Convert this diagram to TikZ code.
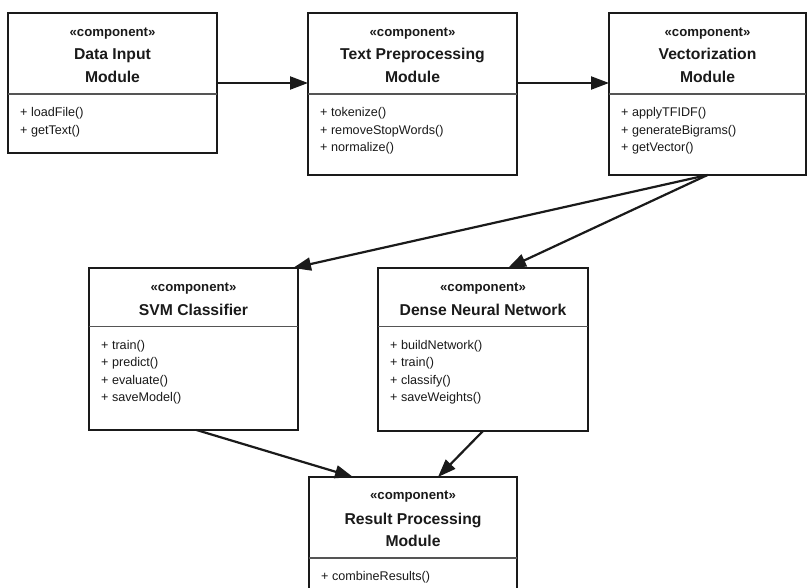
\documentclass[tikz,border=0pt]{standalone}
\usepackage{fontspec}
\setmainfont{Liberation Sans}
\usetikzlibrary{arrows.meta,calc}
\definecolor{ink}{HTML}{1A1A1A}
\definecolor{rulegray}{HTML}{555555}
\tikzset{
  comp/.style={draw=ink, line width=2.2pt, anchor=north west, inner sep=0pt, outer sep=0pt, fill=white},
  divider/.style={draw=rulegray, line width=1.2pt},
  stereo/.style={anchor=base, inner sep=0pt, text=ink, font=\bfseries\fontsize{13.2}{15}\selectfont},
  title/.style={anchor=base, inner sep=0pt, text=ink, font=\bfseries\fontsize{15.7}{18}\selectfont},
  ops/.style={anchor=base west, inner sep=0pt, text=ink, font=\fontsize{12.6}{15}\selectfont},
  flow/.style={draw=ink, line width=2.2pt, -{Triangle[length=18pt,width=13pt]}},
}
\begin{document}
\begin{tikzpicture}[x=1pt, y=-1pt]
  \useasboundingbox (0,0) rectangle (807,588);
  \clip (0,0) rectangle (807,588);
  \fill[white] (0,0) rectangle (807,588);

  % ---- top row ----
  \node[comp, minimum width=209pt, minimum height=140pt] (din) at (8,13) {};
  \node[stereo] (din-s) at (din.north |- 0,37) {«component»};
  \node[title] (din-t1) at (din.north |- 0,59.5) {Data Input};
  \node[title] (din-t2) at (din.north |- 0,83) {Module};
  \draw[divider] (din.west |- 0,94) -- (din.east |- 0,94);
  \node[ops] (din-o1) at ($(din.west |- 0,117)+(12,0)$) {+ loadFile()};
  \node[ops] (din-o2) at ($(din.west |- 0,134.5)+(12,0)$) {+ getText()};

  \node[comp, minimum width=209pt, minimum height=162pt] (tpp) at (308,13) {};
  \node[stereo] (tpp-s) at (tpp.north |- 0,37) {«component»};
  \node[title] (tpp-t1) at (tpp.north |- 0,59.5) {Text Preprocessing};
  \node[title] (tpp-t2) at (tpp.north |- 0,83) {Module};
  \draw[divider] (tpp.west |- 0,94) -- (tpp.east |- 0,94);
  \node[ops] (tpp-o1) at ($(tpp.west |- 0,117)+(12,0)$) {+ tokenize()};
  \node[ops] (tpp-o2) at ($(tpp.west |- 0,134.5)+(12,0)$) {+ removeStopWords()};
  \node[ops] (tpp-o3) at ($(tpp.west |- 0,152)+(12,0)$) {+ normalize()};

  \node[comp, minimum width=197pt, minimum height=162pt] (vec) at (609,13) {};
  \node[stereo] (vec-s) at (vec.north |- 0,37) {«component»};
  \node[title] (vec-t1) at (vec.north |- 0,59.5) {Vectorization};
  \node[title] (vec-t2) at (vec.north |- 0,83) {Module};
  \draw[divider] (vec.west |- 0,94) -- (vec.east |- 0,94);
  \node[ops] (vec-o1) at ($(vec.west |- 0,117)+(12,0)$) {+ applyTFIDF()};
  \node[ops] (vec-o2) at ($(vec.west |- 0,134.5)+(12,0)$) {+ generateBigrams()};
  \node[ops] (vec-o3) at ($(vec.west |- 0,152)+(12,0)$) {+ getVector()};

  % ---- classifiers ----
  \node[comp, minimum width=209pt, minimum height=162pt] (svm) at (89,268) {};
  \node[stereo] (svm-s) at (svm.north |- 0,291.5) {«component»};
  \node[title] (svm-t) at (svm.north |- 0,315.5) {SVM Classifier};
  \draw[divider] (svm.west |- 0,326.5) -- (svm.east |- 0,326.5);
  \node[ops] (svm-o1) at ($(svm.west |- 0,349.7)+(12,0)$) {+ train()};
  \node[ops] (svm-o2) at ($(svm.west |- 0,367)+(12,0)$) {+ predict()};
  \node[ops] (svm-o3) at ($(svm.west |- 0,384.5)+(12,0)$) {+ evaluate()};
  \node[ops] (svm-o4) at ($(svm.west |- 0,401.5)+(12,0)$) {+ saveModel()};

  \node[comp, minimum width=210pt, minimum height=163pt] (dnn) at (378,268) {};
  \node[stereo] (dnn-s) at (dnn.north |- 0,291.5) {«component»};
  \node[title] (dnn-t) at (dnn.north |- 0,315.5) {Dense Neural Network};
  \draw[divider] (dnn.west |- 0,326.5) -- (dnn.east |- 0,326.5);
  \node[ops] (dnn-o1) at ($(dnn.west |- 0,349.7)+(12,0)$) {+ buildNetwork()};
  \node[ops] (dnn-o2) at ($(dnn.west |- 0,367)+(12,0)$) {+ train()};
  \node[ops] (dnn-o3) at ($(dnn.west |- 0,384.5)+(12,0)$) {+ classify()};
  \node[ops] (dnn-o4) at ($(dnn.west |- 0,401.5)+(12,0)$) {+ saveWeights()};

  % ---- result ----
  \node[comp, minimum width=208pt, minimum height=140pt] (res) at (309,477) {};
  \node[stereo] (res-s) at (res.north |- 0,499.5) {«component»};
  \node[title] (res-t1) at (res.north |- 0,524) {Result Processing};
  \node[title] (res-t2) at (res.north |- 0,546.5) {Module};
  \draw[divider] (res.west |- 0,558) -- (res.east |- 0,558);
  \node[ops] (res-o1) at ($(res.west |- 0,580.5)+(12,0)$) {+ combineResults()};

  % ---- connectors ----
  \draw[flow] (din.east |- 0,83) -- (tpp.west |- 0,83);
  \draw[flow] (tpp.east |- 0,83) -- (vec.west |- 0,83);
  \draw[flow] (vec.south) -- ($(svm.north east)+(-5,0)$);
  \draw[flow] (vec.south) -- ($(dnn.north)+(25,0)$);
  \draw[flow] ($(svm.south)+(3,0)$) -- ($(res.north)+(-60,0)$);
  \draw[flow] (dnn.south) -- ($(res.north)+(25,0)$);
\end{tikzpicture}
\end{document}
